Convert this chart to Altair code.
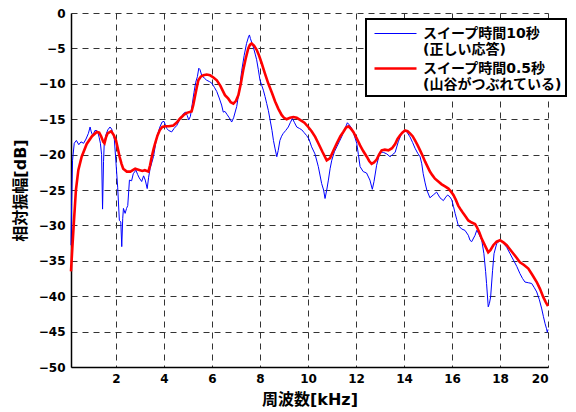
import altair as alt
import pandas as pd

# Blue: sweep time 10 s (correct response)
blue_f = [0.125, 0.15, 0.19, 0.26, 0.35, 0.45, 0.54, 0.65, 0.75, 0.85, 0.92, 0.97, 1.03, 1.12, 1.2, 1.24, 1.3, 1.35, 1.40, 1.44, 1.48, 1.51, 1.58, 1.66, 1.75, 1.82, 1.93, 2.0, 2.07, 2.14, 2.2, 2.24, 2.28, 2.31, 2.38, 2.44, 2.49, 2.56, 2.65, 2.72, 2.83, 2.9, 2.97, 3.07, 3.15, 3.22, 3.3, 3.36, 3.42, 3.56, 3.7, 3.83, 3.92, 4.0, 4.11, 4.2, 4.32, 4.42, 4.53, 4.65, 4.74, 4.81, 4.9, 4.97, 5.03, 5.1, 5.18, 5.25, 5.32, 5.39, 5.45, 5.5, 5.57, 5.68, 5.78, 5.9, 5.99, 6.1, 6.2, 6.3, 6.4, 6.47, 6.54, 6.62, 6.72, 6.82, 6.9, 7.03, 7.14, 7.24, 7.34, 7.44, 7.52, 7.56, 7.6, 7.66, 7.72, 7.8, 7.86, 7.93, 8.0, 8.07, 8.14, 8.21, 8.28, 8.35, 8.42, 8.5, 8.56, 8.63, 8.7, 8.76, 8.83, 8.9, 8.97, 9.07, 9.18, 9.26, 9.35, 9.44, 9.53, 9.64, 9.74, 9.84, 9.94, 10.04, 10.15, 10.29, 10.43, 10.57, 10.65, 10.71, 10.78, 10.85, 10.92, 10.99, 11.1, 11.2, 11.3, 11.4, 11.52, 11.64, 11.72, 11.82, 11.92, 12.03, 12.1, 12.17, 12.3, 12.44, 12.58, 12.68, 12.75, 12.86, 13.0, 13.15, 13.28, 13.42, 13.52, 13.63, 13.76, 13.9, 14.08, 14.25, 14.36, 14.46, 14.57, 14.67, 14.74, 14.8, 14.88, 14.95, 15.08, 15.22, 15.36, 15.5, 15.64, 15.74, 15.82, 15.92, 15.99, 16.06, 16.13, 16.2, 16.26, 16.4, 16.54, 16.68, 16.75, 16.82, 16.96, 17.03, 17.12, 17.24, 17.33, 17.4, 17.44, 17.51, 17.56, 17.61, 17.69, 17.75, 17.86, 18.0, 18.14, 18.28, 18.42, 18.56, 18.7, 18.83, 18.94, 19.04, 19.18, 19.32, 19.43, 19.53, 19.64, 19.74, 19.81, 19.88, 19.94, 19.97, 20.0]
blue_db = [-32.8, -27.0, -20.8, -18.4, -18.0, -18.6, -18.2, -18.4, -17.8, -17.0, -16.1, -16.8, -17.3, -16.6, -16.6, -16.8, -17.6, -18.4, -20.0, -27.7, -21.0, -18.4, -17.2, -16.5, -16.1, -16.4, -17.8, -21.2, -24.6, -29.3, -29.5, -33.0, -29.0, -27.6, -28.3, -27.6, -27.2, -23.6, -23.7, -22.7, -22.2, -22.8, -23.3, -23.8, -23.0, -23.6, -24.8, -23.2, -22.0, -20.3, -17.5, -16.1, -15.4, -15.3, -16.3, -16.6, -16.8, -16.3, -15.9, -15.1, -14.7, -14.2, -14.0, -14.5, -15.1, -14.6, -12.8, -11.2, -9.8, -9.0, -7.8, -8.0, -8.8, -9.2, -9.5, -9.7, -9.9, -10.5, -11.1, -12.0, -13.0, -14.0, -13.9, -14.3, -14.8, -15.4, -14.8, -13.2, -10.8, -8.1, -6.0, -4.3, -3.4, -3.1, -3.6, -4.2, -4.8, -5.8, -6.6, -8.0, -9.5, -10.2, -10.9, -11.8, -12.8, -13.8, -15.1, -16.6, -18.0, -19.2, -20.3, -19.4, -18.0, -17.4, -17.0, -16.6, -16.1, -15.5, -14.9, -15.5, -16.1, -16.3, -16.5, -16.9, -17.3, -17.8, -18.9, -19.9, -21.7, -24.1, -25.0, -26.2, -25.0, -23.6, -22.0, -20.8, -19.6, -18.9, -18.2, -17.5, -16.5, -15.5, -15.8, -16.3, -17.2, -18.4, -20.0, -21.7, -22.4, -22.6, -23.6, -24.9, -23.8, -21.5, -19.6, -19.7, -19.9, -20.3, -20.0, -19.7, -18.2, -17.0, -16.6, -17.5, -18.3, -19.1, -19.8, -20.3, -21.3, -22.7, -24.0, -25.0, -26.1, -25.7, -25.3, -26.1, -26.5, -26.0, -25.7, -26.0, -26.4, -27.3, -28.3, -29.2, -30.0, -30.5, -30.7, -31.4, -32.1, -32.3, -31.4, -30.7, -31.2, -32.1, -34.0, -36.5, -38.2, -41.5, -41.0, -40.1, -36.4, -34.0, -32.6, -32.1, -32.5, -33.1, -34.0, -34.9, -35.8, -36.8, -37.5, -38.0, -38.1, -38.2, -38.8, -39.4, -40.5, -41.8, -42.9, -43.9, -44.6, -45.1, -44.7]

# Red: sweep time 0.5 s (peaks and valleys smoothed out)
red_f = [0.125, 0.18, 0.25, 0.33, 0.43, 0.57, 0.78, 1.0, 1.2, 1.3, 1.38, 1.47, 1.52, 1.58, 1.65, 1.8, 1.9, 2.0, 2.08, 2.15, 2.23, 2.3, 2.45, 2.6, 2.7, 2.8, 2.9, 3.0, 3.1, 3.2, 3.35, 3.42, 3.49, 3.56, 3.63, 3.73, 3.83, 3.93, 4.04, 4.2, 4.39, 4.52, 4.67, 4.82, 4.95, 5.15, 5.22, 5.29, 5.36, 5.43, 5.53, 5.64, 5.78, 5.92, 6.06, 6.2, 6.35, 6.54, 6.68, 6.78, 6.89, 7.0, 7.1, 7.2, 7.3, 7.4, 7.51, 7.58, 7.65, 7.75, 7.86, 7.96, 8.07, 8.2, 8.35, 8.5, 8.63, 8.76, 8.9, 9.0, 9.11, 9.25, 9.39, 9.53, 9.67, 9.85, 10.01, 10.15, 10.3, 10.43, 10.6, 10.78, 10.92, 11.05, 11.2, 11.35, 11.47, 11.58, 11.68, 11.78, 11.89, 12.03, 12.17, 12.3, 12.45, 12.55, 12.65, 12.75, 12.86, 12.96, 13.07, 13.2, 13.35, 13.5, 13.63, 13.73, 13.83, 13.93, 14.04, 14.15, 14.25, 14.36, 14.46, 14.57, 14.67, 14.78, 14.88, 14.98, 15.08, 15.18, 15.29, 15.43, 15.57, 15.71, 15.85, 15.95, 16.06, 16.16, 16.26, 16.37, 16.47, 16.58, 16.68, 16.82, 16.96, 17.03, 17.14, 17.24, 17.38, 17.51, 17.6, 17.72, 17.86, 18.0, 18.14, 18.28, 18.42, 18.56, 18.7, 18.83, 19.0, 19.18, 19.35, 19.53, 19.67, 19.8, 19.9, 20.0]
red_db = [-36.5, -33.2, -29.3, -25.0, -22.2, -20.3, -18.5, -17.4, -16.8, -16.9, -17.4, -18.2, -18.4, -17.6, -17.0, -16.7, -17.2, -18.0, -19.2, -20.3, -21.3, -22.0, -22.4, -22.4, -22.2, -22.0, -22.1, -22.2, -22.3, -22.2, -22.4, -21.5, -20.3, -19.3, -18.4, -17.3, -16.5, -16.1, -16.0, -16.0, -15.9, -15.5, -14.9, -14.4, -14.1, -13.9, -13.0, -11.8, -10.6, -9.5, -9.0, -8.8, -8.7, -8.8, -9.1, -9.5, -10.3, -11.6, -12.1, -12.6, -12.8, -12.4, -11.6, -10.0, -8.1, -6.5, -5.0, -4.5, -4.3, -4.6, -5.2, -6.0, -7.1, -8.5, -10.0, -11.3, -12.5, -13.5, -14.4, -14.8, -15.0, -14.8, -14.7, -14.8, -15.1, -15.5, -16.1, -16.7, -17.5, -18.4, -19.6, -20.8, -20.5, -19.5, -18.4, -17.4, -16.8, -16.2, -16.0, -16.3, -16.8, -17.7, -18.7, -19.5, -20.3, -20.9, -21.3, -21.1, -20.7, -20.0, -19.4, -19.3, -19.4, -19.1, -18.5, -17.8, -17.3, -16.9, -16.6, -16.7, -17.0, -17.4, -18.0, -18.7, -19.4, -20.2, -21.0, -21.7, -22.4, -22.9, -23.4, -23.8, -24.2, -24.5, -24.8, -25.2, -25.7, -26.4, -27.2, -27.8, -28.3, -28.8, -29.3, -29.6, -29.8, -30.2, -31.0, -31.9, -32.9, -33.8, -33.5, -32.8, -32.3, -32.1, -32.4, -32.8, -33.4, -34.0, -34.6, -35.2, -35.6, -36.1, -37.0, -38.0, -39.0, -40.1, -40.8, -41.4]

series_labels = ["スイープ時間10秒|(正しい応答)", "スイープ時間0.5秒|(山谷がつぶれている)"]
series_colors = ["#0000ff", "#ff0000"]
series_widths = [1.0, 2.6]
x_ticks = [2, 4, 6, 8, 10, 12, 14, 16, 18, 20]
y_ticks = [-50, -45, -40, -35, -30, -25, -20, -15, -10, -5, 0]

df = pd.concat([
    pd.DataFrame({"f": blue_f, "db": blue_db, "series": series_labels[0], "k": 0}),
    pd.DataFrame({"f": red_f, "db": red_db, "series": series_labels[1], "k": 1}),
], ignore_index=True)

FONT = "DejaVu Sans, Noto Sans CJK JP"


def make_legend():
    return alt.Legend(
        title=None, orient="none", legendX=295, legendY=6,
        labelExpr="split(datum.label, '|')",
        symbolType="M-2.1,0H2.1", symbolSize=400, symbolOffset=14,
        strokeColor="black", fillColor="white", padding=4,
        labelFont=FONT, labelFontSize=14, labelFontWeight="bold",
        labelColor="black", labelLimit=400, labelOffset=16, rowPadding=-3,
    )


color = alt.Color(
    "series:N",
    scale=alt.Scale(domain=series_labels, range=series_colors),
    legend=make_legend(),
)
sw = alt.StrokeWidth(
    "series:N",
    scale=alt.Scale(domain=series_labels, range=series_widths),
    legend=make_legend(),
)

x = alt.X("f:Q", scale=alt.Scale(domain=[0.125, 20], nice=False, zero=False),
          axis=alt.Axis(values=x_ticks, title="周波数[kHz]", format="d"))
y = alt.Y("db:Q", scale=alt.Scale(domain=[-50, 0], nice=False),
          axis=alt.Axis(values=y_ticks, title="相対振幅[dB]", format="d"))

base = alt.Chart(df).mark_line(interpolate="linear").encode(
    x=x, y=y, color=color, strokeWidth=sw
)
blue = base.transform_filter("datum.k == 0")
red = base.transform_filter("datum.k == 1")

chart = alt.layer(blue, red).properties(
    width=477, height=354,
    autosize=alt.AutoSizeParams(type="none"),
    padding={"left": 63, "top": 5, "right": 20, "bottom": 42},
).configure_view(stroke=None).configure_axis(
    domainColor="black", domainWidth=1.5,
    grid=True, gridColor="#333333", gridDash=[6, 5], gridWidth=1, gridOpacity=1,
    ticks=False, labelFont=FONT, labelFontSize=12, labelFontWeight="bold",
    labelColor="black", labelPadding=6,
    titleFont=FONT, titleFontSize=16, titleFontWeight="bold", titleColor="black",
).configure_axisX(titlePadding=7).configure_axisY(titlePadding=10).configure_legend(
    strokeWidth=2
)

chart.save("out.html", embed_options={"renderer": "svg", "actions": False})
